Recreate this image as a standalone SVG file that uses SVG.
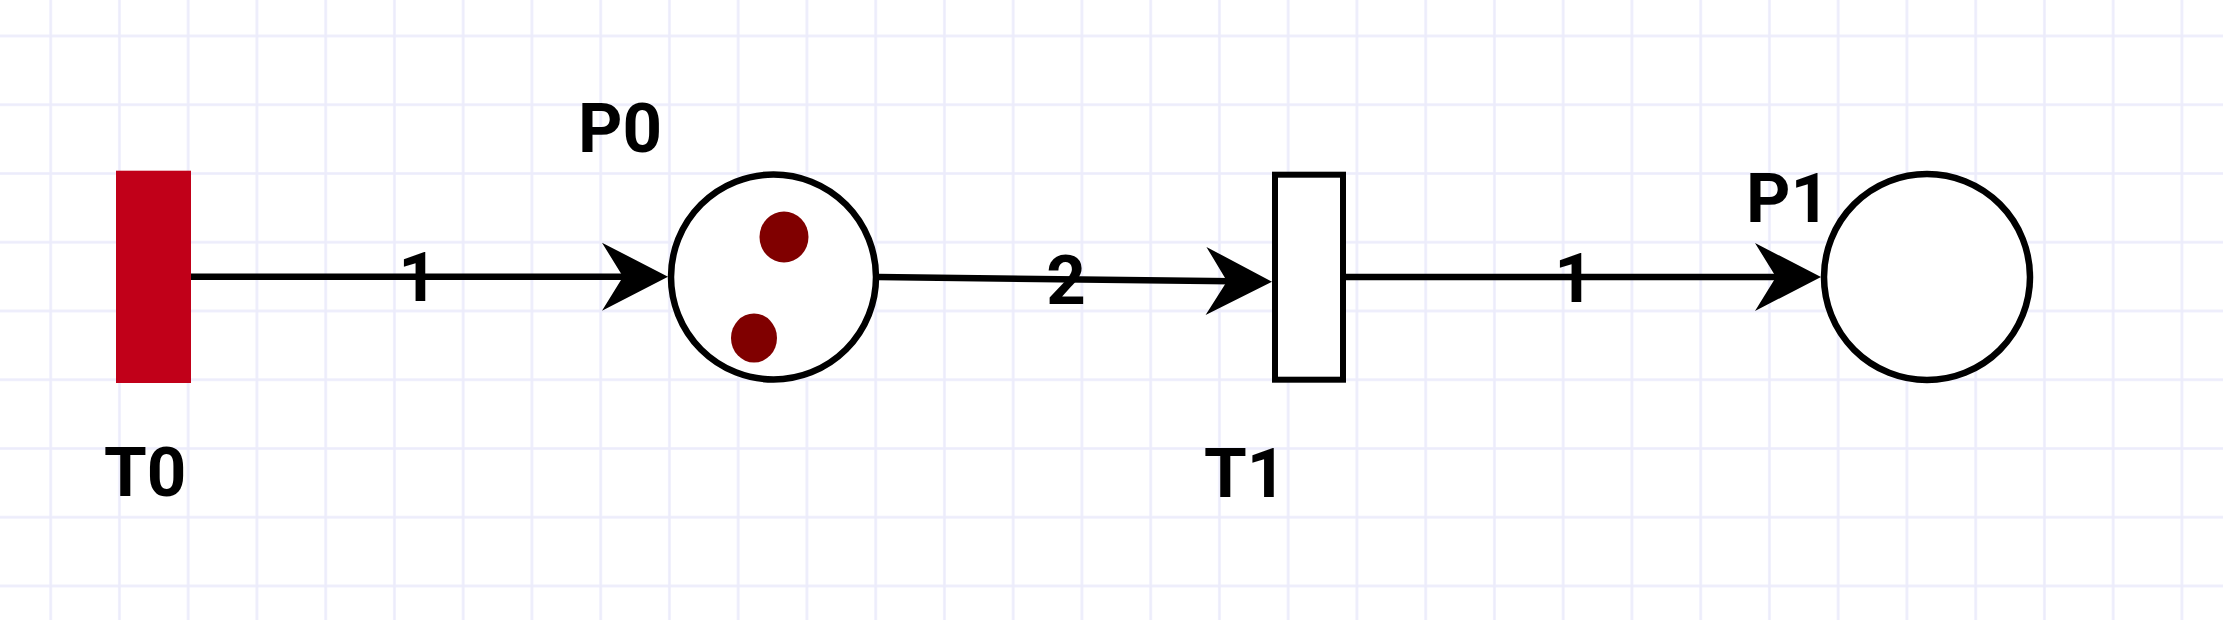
<svg xmlns="http://www.w3.org/2000/svg" width="2223" height="620" viewBox="0 0 2223 620">
  <defs>
    <pattern id="grid" patternUnits="userSpaceOnUse" x="16.3" y="1.6" width="68.75" height="68.75">
      <path d="M34.375,0 V68.75 M0,34.375 H68.75" stroke="#ECECFB" stroke-width="2.5" fill="none"/>
    </pattern>
    <style>
      text { font-family: Roboto, 'Liberation Sans', sans-serif; font-weight: 700; font-size: 69px; fill: #000; }
      .mid { text-anchor: middle; }
      .edge { stroke: #000; stroke-width: 6.5; fill: none; }
      .head { fill: #000; }
      .place { fill: #fff; stroke: #000; stroke-width: 6.5; }
      .token { fill: #800000; }
    </style>
  </defs>
  <rect x="0" y="0" width="2223" height="620" fill="#fff"/>
  <rect x="0" y="0" width="2223" height="620" fill="url(#grid)"/>

  <g id="connectors">
    <g id="arc-T0-P0">
      <path class="edge" d="M191,276.7 L628,276.7"/>
      <path class="head" d="M668,276.7 L602,242.7 L623,276.7 L602,310.7 Z"/>
      <text class="mid" x="418" y="301">1</text>
    </g>
    <g id="arc-P0-T1">
      <path class="edge" d="M878,277 L1232,281.2"/>
      <path class="head" d="M1272,281.7 L1206.4,246.9 L1227,281.2 L1205.6,314.9 Z"/>
      <text class="mid" x="1066" y="304">2</text>
    </g>
    <g id="arc-T1-P1">
      <path class="edge" d="M1346,277 L1781,277"/>
      <path class="head" d="M1821,277 L1755,243 L1776,277 L1755,311 Z"/>
      <text class="mid" x="1574" y="301.7">1</text>
    </g>
  </g>

  <g id="T0">
    <rect x="116" y="170.7" width="75" height="212.3" fill="#C10019"/>
    <text x="104" y="496">T0</text>
  </g>

  <g id="P0">
    <circle class="place" cx="773.5" cy="277" r="102.5"/>
    <ellipse class="token" cx="784" cy="237" rx="24.5" ry="25.5"/>
    <ellipse class="token" cx="754" cy="338" rx="23" ry="24.5"/>
    <text x="578" y="152">P0</text>
  </g>

  <g id="T1">
    <rect x="1275" y="174.7" width="68" height="205" fill="#fff" stroke="#000" stroke-width="6"/>
    <text x="1204" y="496.7">T1</text>
  </g>

  <g id="P1">
    <circle class="place" cx="1927" cy="277" r="103"/>
    <text x="1746" y="221.7">P1</text>
  </g>
</svg>
